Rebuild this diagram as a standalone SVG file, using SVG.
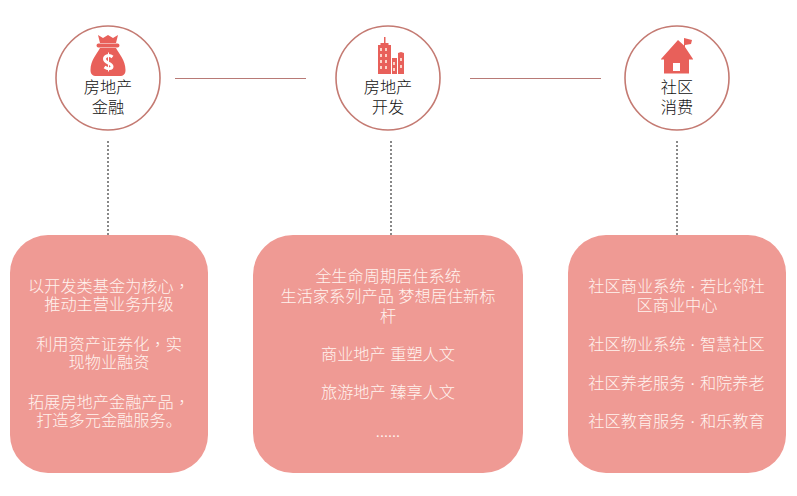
<svg xmlns="http://www.w3.org/2000/svg" width="797" height="496" viewBox="0 0 797 496">
<style>
text{font-family:"Noto Sans CJK SC","Liberation Sans",sans-serif;font-size:16px;text-anchor:middle;font-weight:300}
.n{fill:#fff;stroke:#c47a72;stroke-width:1.6}
.l{fill:#111;font-size:16.200px}
.b{fill:#ef9a94}
.w{fill:#fff3ef;font-size:16.200px}
.c{font-family:"Noto Sans CJK TC",sans-serif}
.p{font-family:"Liberation Sans",sans-serif}
.i{fill:#e8605a}
.h{stroke:#b87a76;stroke-width:1.2;fill:none}
.d{stroke:#888;stroke-width:2;stroke-dasharray:2 2;fill:none}
</style>
<rect width="797" height="496" fill="#fff"/>
<g id="connectors">
<path class="h" d="M175 78.500H306"/>
<path class="h" d="M470 78.500H601"/>
<path class="d" d="M108 141V235"/>
<path class="d" d="M391 141V235"/>
<path class="d" d="M677 141V235"/>
</g>
<g id="node-finance">
<circle class="n" cx="108" cy="78" r="52"/>
<path class="i" d="M98 35l5 3 5-3 5 3 5-3-2 8h-16zM98.500 43.500h19a2 2 0 0 1 0 4h-19a2 2 0 0 1 0-4zM100 48h16c3 6 9.500 12 9.500 22 0 4-2 6-6 6h-23c-4 0-6-2-6-6 0-10 6.500-16 9.500-22z"/>
<path d="M112.500 57c-3-2.500-8-1.500-8 2 0 4.500 7.500 3.500 7.500 7.500 0 2.500-4 3-7.500 .5" fill="none" stroke="#fff" stroke-width="3"/>
<path d="M108.500 52.500v19" stroke="#fff" stroke-width="1"/>
<text class="l" x="108" y="93">房地产</text>
<text class="l" x="108" y="113">金融</text>
</g>
<g id="node-development">
<circle class="n" cx="388" cy="78" r="52"/>
<path class="i" d="M384 37h1.500v6h3v2h2.500v29h-13v-29h2.500v-2h3.500zM392 58h5v16h-5zM398 53l3-1 3 1v21h-6z"/>
<g fill="#fbd3c8"><path d="M380 48h2v3h-2zM385 48h2v3h-2zM380 54h2v3h-2zM385 54h2v3h-2zM380 60h2v3h-2zM385 60h2v3h-2zM380 66h2v3h-2zM385 66h2v3h-2zM393 62h2v3h-2zM393 68h2v3h-2zM400 58h2v3h-2zM400 65h2v3h-2z"/></g>
<text class="l" x="388" y="93">房地产</text>
<text class="l" x="388" y="113">开发</text>
</g>
<g id="node-community">
<circle class="n" cx="677" cy="78" r="52"/>
<path class="i" d="M678 40l6 5.500v-7.500l8 2-1 4-6 1v2l8 12v.5h-4v14h-25v-14h-3v-.5z"/>
<path fill="#fff" d="M673 63h7v8h-7z"/>
<text class="l" x="677" y="93">社区</text>
<text class="l" x="677" y="113">消费</text>
</g>
<g id="box-finance">
<rect class="b" x="10" y="235" width="198" height="238" rx="38"/>
<text class="w" x="109" y="292">以开发类基金为核心<tspan class="c">，</tspan></text>
<text class="w" x="109" y="310">推动主营业务升级</text>
<text class="w" x="109" y="350">利用资产证券化<tspan class="c">，</tspan>实</text>
<text class="w" x="109" y="368">现物业融资</text>
<text class="w" x="109" y="408">拓展房地产金融产品<tspan class="c">，</tspan></text>
<text class="w" x="109" y="426">打造多元金融服务。</text>
</g>
<g id="box-development">
<rect class="b" x="253" y="235" width="270" height="238" rx="40"/>
<text class="w" x="388" y="282">全生命周期居住系统</text>
<text class="w" x="388" y="302">生活家系列产品<tspan class="p"> </tspan>梦想居住新标</text>
<text class="w" x="388" y="322">杆</text>
<text class="w" x="388" y="360">商业地产<tspan class="p"> </tspan>重塑人文</text>
<text class="w" x="388" y="398">旅游地产<tspan class="p"> </tspan>臻享人文</text>
<text class="w" x="388" y="437">......</text>
</g>
<g id="box-community">
<rect class="b" x="568" y="235" width="218" height="238" rx="38"/>
<text class="w" x="676.500" y="292">社区商业系统<tspan class="p"> · </tspan>若比邻社</text>
<text class="w" x="677" y="311">区商业中心</text>
<text class="w" x="676.500" y="350">社区物业系统<tspan class="p"> · </tspan>智慧社区</text>
<text class="w" x="676.500" y="389">社区养老服务<tspan class="p"> · </tspan>和院养老</text>
<text class="w" x="676.500" y="427">社区教育服务<tspan class="p"> · </tspan>和乐教育</text>
</g>
</svg>
